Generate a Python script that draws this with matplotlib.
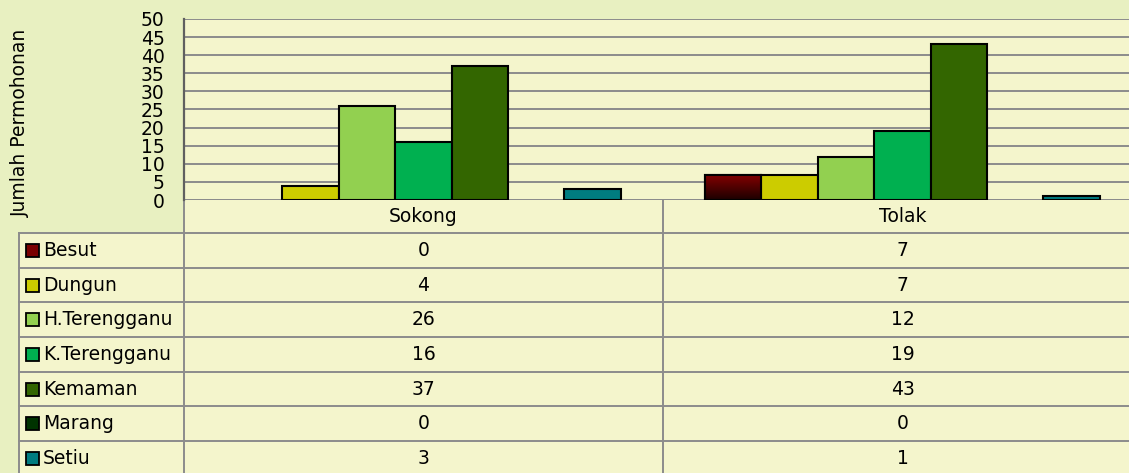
import numpy as np
import matplotlib.pyplot as plt
from matplotlib.colors import LinearSegmentedColormap

# data
categories = ["Sokong", "Tolak"]
districts = ["Besut", "Dungun", "H.Terengganu", "K.Terengganu", "Kemaman", "Marang", "Setiu"]
sokong = [0, 4, 26, 16, 37, 0, 3]
tolak = [7, 7, 12, 19, 43, 0, 1]
colours = ["#7a0000", "#cccc00", "#92d050", "#00b050", "#336600", "#003300", "#007c80"]
yticks = list(range(0, 55, 5))
ylabel = "Jumlah Permohonan"

plt.rcParams['font.family'] = ['DejaVu Sans']
W, H = 1129, 473
fig = plt.figure(figsize=(W / 100, H / 100), dpi=100)
fig.patch.set_facecolor("#e8f0c1")
panel = "#f4f5cc"
grid_c = "#8c8c8c"

# plot area in pixel positions
left, right, top, base = 184, 1142, 19, 200
ax = fig.add_axes([left / W, 1 - base / H, (right - left) / W, (base - top) / H], zorder=2)
ax.set_facecolor(panel)

n = len(districts)
bw = 56.4 / 479
off = 42 / 479
cat_x = np.arange(len(categories))
values = np.array([sokong, tolak]).T  # rows = districts
edge_w = 1.5

for i in range(n):
    xs = cat_x - 0.5 + off + bw * (i + 0.5)
    hs = values[i]
    lws = [edge_w if h > 0 else 0 for h in hs]
    bars = ax.bar(xs, hs, width=bw, color=colours[i], edgecolor="black",
                  linewidth=lws, zorder=3)
    if i == 0:
        # besut has a dark gradient fill
        cmap = LinearSegmentedColormap.from_list("besut", ["#1c0000", "#850000"])
        for b in bars:
            if b.get_height() > 0:
                x0 = b.get_x()
                im = ax.imshow(np.linspace(0, 1, 50).reshape(-1, 1)[::-1], cmap=cmap,
                               extent=[x0, x0 + b.get_width(), 0, b.get_height()],
                               aspect="auto", zorder=3.5)
                im.set_clip_path(b)
                ax.bar(b.get_x() + b.get_width() / 2, b.get_height(), width=bw,
                       fill=False, edgecolor="black", linewidth=edge_w, zorder=4)

ax.set_xlim(-0.5, len(categories) - 0.5)
ax.set_ylim(0, 50)
ax.set_yticks(yticks)
ax.set_xticks([])
ax.tick_params(axis="y", length=0, pad=14, labelsize=13.5)
ax.yaxis.grid(True, color=grid_c, linewidth=1.4, zorder=1)
ax.set_axisbelow(True)
for s in ["top", "right", "bottom"]:
    ax.spines[s].set_visible(False)
ax.spines["left"].set_color("#606060")
ax.spines["left"].set_linewidth(1.6)
ax.axhline(0, color=grid_c, linewidth=1.4, zorder=2)

fig.text(20 / W, 1 - 123 / H, ylabel, rotation=90, ha="center", va="center", fontsize=13.5)

# data table under the chart, drawn in pixel coordinates
tax = fig.add_axes([0, 0, 1, 1], zorder=1)
tax.set_xlim(0, W)
tax.set_ylim(H, 0)
tax.axis("off")

tleft, row0, rh = 19, 233, 34.67
col_edges = [left, 663, right]
bottom = row0 + rh * n
tax.add_patch(plt.Rectangle((tleft, row0), right - tleft, bottom - row0, color=panel, lw=0))
tax.add_patch(plt.Rectangle((left, base), right - left, row0 - base, color=panel, lw=0))

lk = dict(color=grid_c, linewidth=1.4)
for r in range(n + 1):
    y = row0 + rh * r
    tax.plot([tleft, right], [y, y], **lk)
tax.plot([tleft, tleft], [row0, bottom], **lk)
for x in col_edges:
    tax.plot([x, x], [base, bottom], **lk)

for j, cat in enumerate(categories):
    cx = (col_edges[j] + col_edges[j + 1]) / 2
    tax.text(cx, (base + row0) / 2, cat, ha="center", va="center", fontsize=13.5)
    for i in range(n):
        cy = row0 + rh * (i + 0.5)
        tax.text(cx, cy, str(values[i][j]), ha="center", va="center", fontsize=13.5)

for i, name in enumerate(districts):
    cy = row0 + rh * (i + 0.5)
    tax.add_patch(plt.Rectangle((26, cy - 6.5), 13, 13, facecolor=colours[i],
                                edgecolor="black", linewidth=1.3))
    tax.text(43, cy, name, ha="left", va="center", fontsize=13.5)

plt.savefig("out.png", dpi=100, facecolor=fig.get_facecolor())
